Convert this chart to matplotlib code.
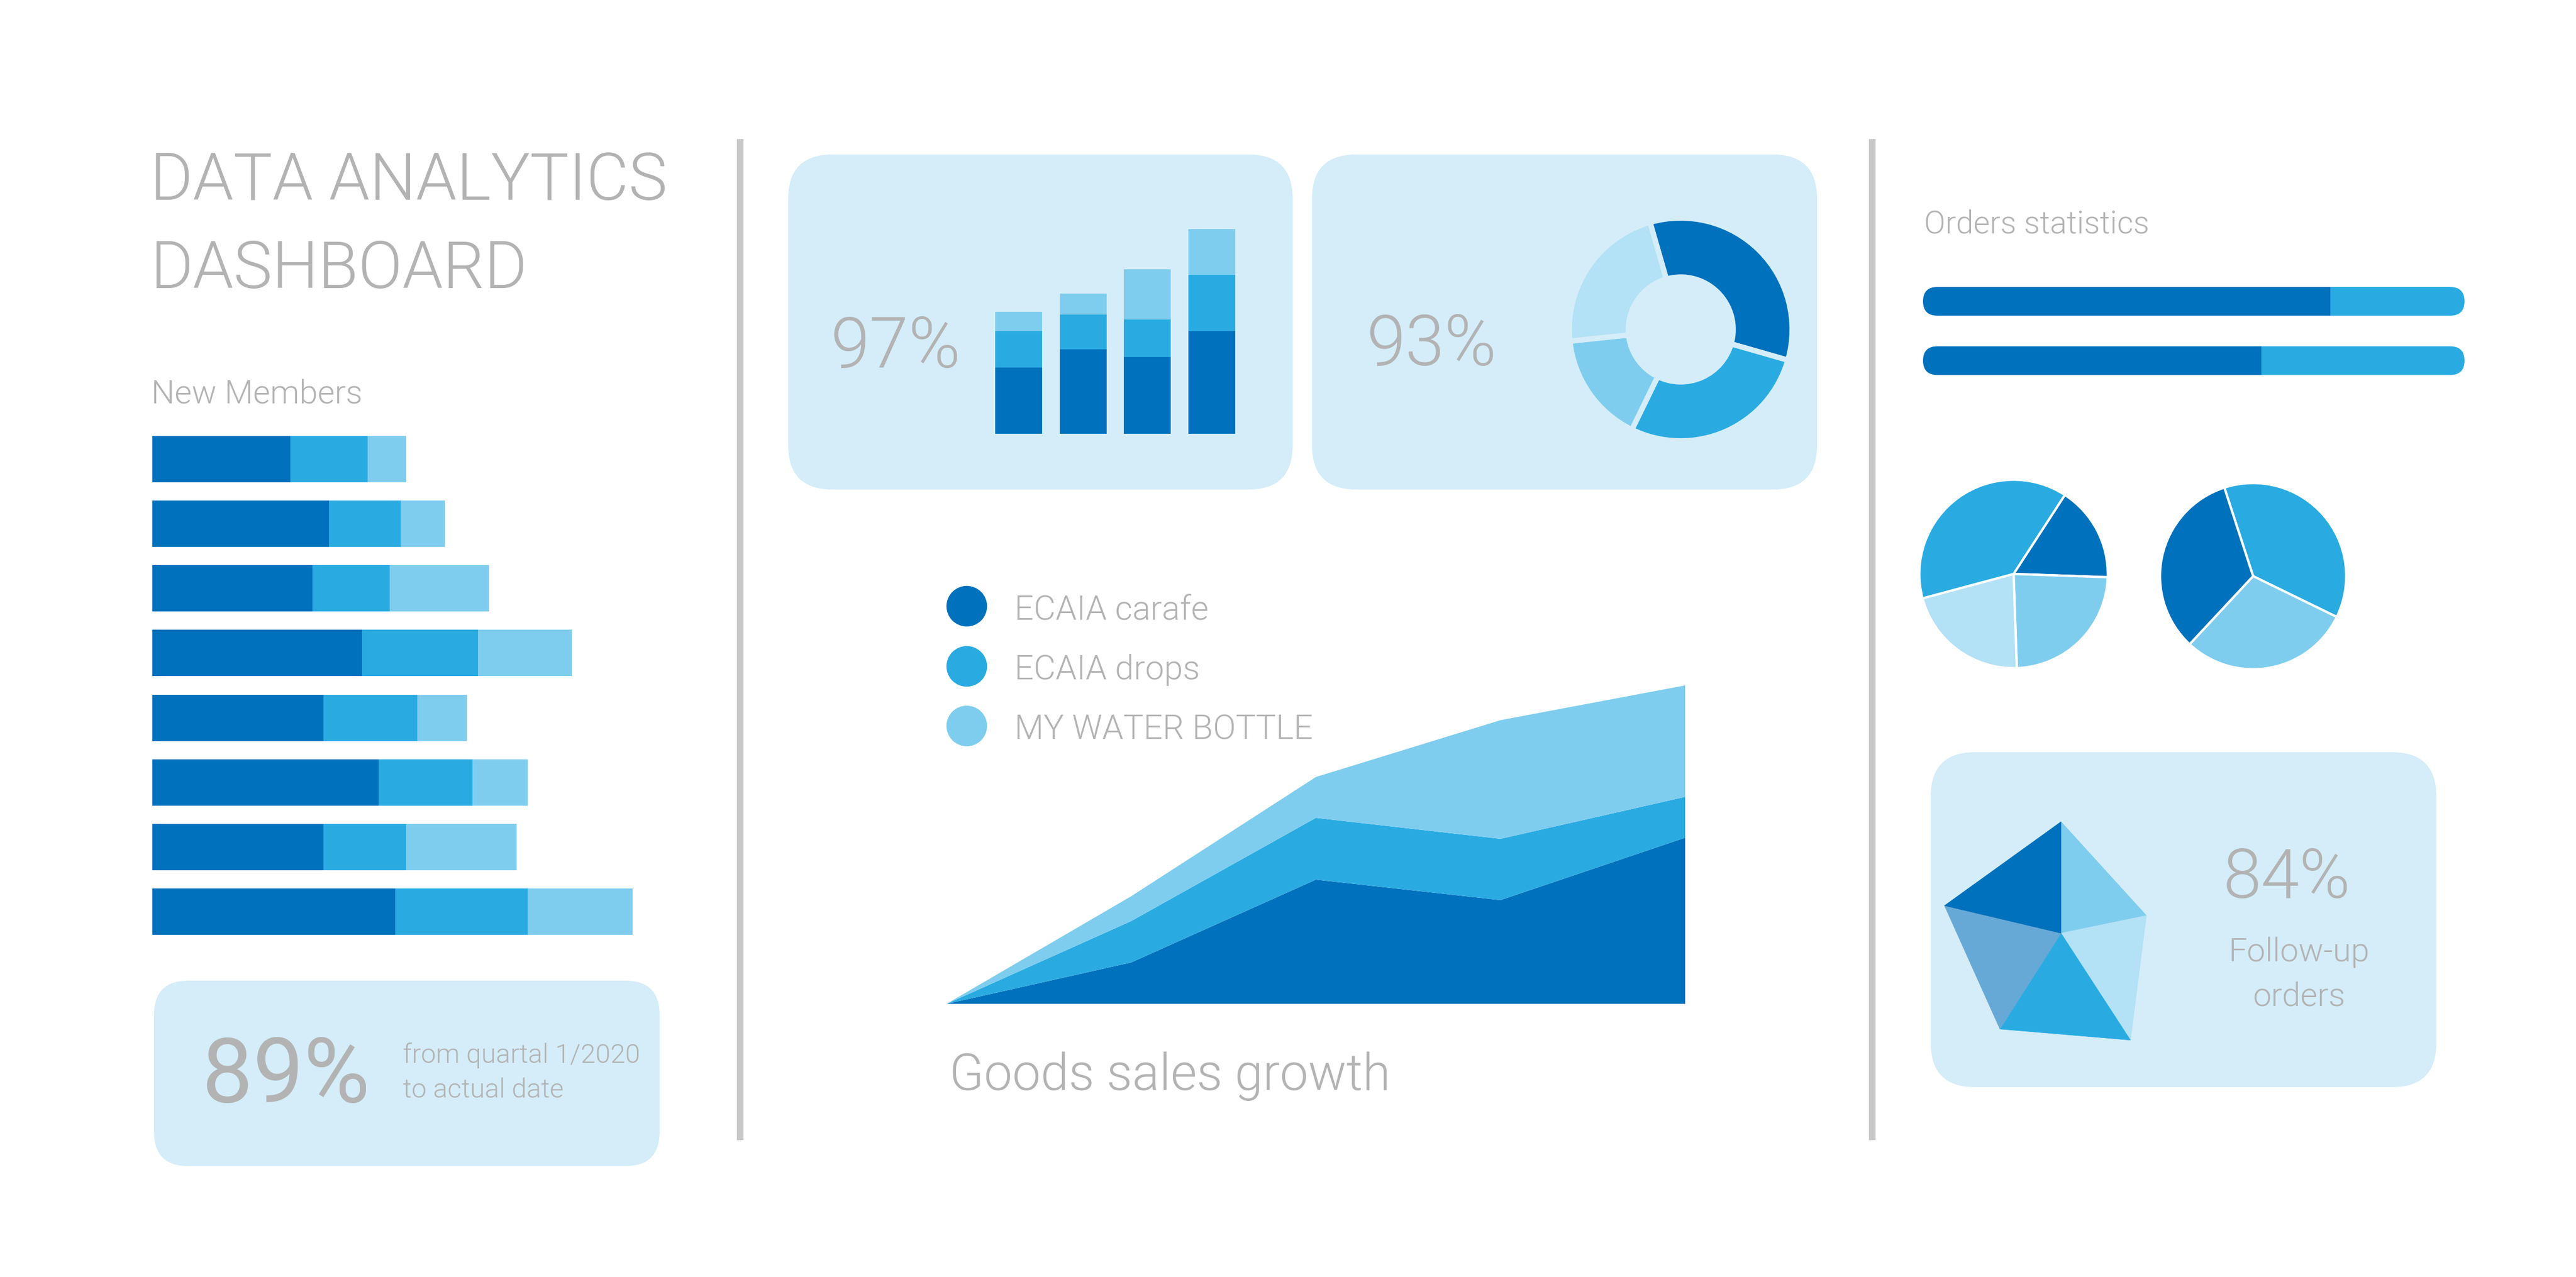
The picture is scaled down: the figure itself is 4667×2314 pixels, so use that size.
import numpy as np
import matplotlib
matplotlib.use("Agg")
import matplotlib.pyplot as plt
from matplotlib.patches import FancyBboxPatch
from matplotlib.lines import Line2D

plt.rcParams["font.family"] = ["Roboto", "DejaVu Sans"]

W, H = 4667, 2314

DARK = "#0071BC"
MID = "#29ABE2"
LIGHT = "#7FCDEE"
PALE = "#B3E1F5"
STEEL = "#66A9D7"
BOX = "#D4EDF8"
GREY = "#B3B3B3"

# New Members (three stacked segments per row)
members_dark = [25, 32, 29, 38, 31, 41, 31, 44]
members_mid = [14, 13, 14, 21, 17, 17, 15, 24]
members_light = [7, 8, 18, 17, 9, 10, 20, 19]

# small column chart in the 97% card
cols_dark = [12.0, 15.3, 13.9, 18.6]
cols_mid = [6.6, 6.3, 6.8, 10.2]
cols_light = [3.5, 3.8, 9.1, 8.3]

# donut in the 93% card
donut_values = [122, 100, 58, 80]

# goods sales growth
sales_x = [0, 1, 2, 3, 4]
sales_carafe = [0, 7.5, 22.5, 18.8, 30.1]
sales_drops = [0, 7.5, 11.2, 11.1, 7.4]
sales_bottle = [0, 4.5, 7.4, 21.5, 20.2]
sales_labels = ["ECAIA carafe", "ECAIA drops", "MY WATER BOTTLE"]

# orders statistics
orders_share = [75.2, 62.5]

pie1_values = [59, 86, 77, 138]
pie2_values = [134, 107, 119]

# follow-up orders "pentagon"
penta_angles = [90, 11.7, -57, -122.5, 166.7]
penta_radii = [202, 158, 231, 206, 217]

fig = plt.figure(figsize=(W / 100, H / 100), dpi=100)
bg = fig.add_axes([0, 0, 1, 1])
bg.set_xlim(0, W)
bg.set_ylim(H, 0)
bg.axis("off")


def px_axes(x0, y0, x1, y1):
    ax = fig.add_axes([x0 / W, 1 - y1 / H, (x1 - x0) / W, (y1 - y0) / H])
    ax.axis("off")
    return ax


def card(x0, y0, x1, y1, r):
    bg.add_patch(FancyBboxPatch((x0, y0), x1 - x0, y1 - y0,
                                boxstyle=f"round,pad=0,rounding_size={r}",
                                fc=BOX, ec="none"))


def label(x, y, s, size, ha="left", weight=300):
    bg.text(x, y, s, fontsize=size, color=GREY, ha=ha, va="baseline",
            fontweight=weight)


# separators and cards
for sx in [1341, 3392]:
    bg.plot([sx, sx], [252, 2066], color="#C8C8C8", lw=8.6, solid_capstyle="butt")
card(279, 1777, 1195, 2113, 62)
card(1428, 280, 2342, 887, 80)
card(2377, 280, 3292, 887, 80)
card(3498, 1363, 4414, 1970, 80)

# titles and labels
label(272, 362, "DATA ANALYTICS", 85)
label(272, 522, "DASHBOARD", 85)
label(274, 731, "New Members", 43)
label(366, 1997, "89%", 118, weight="normal")
label(730, 1926, "from quartal 1/2020", 35)
label(730, 1989, "to actual date", 35)
label(1505, 666, "97%", 92)
label(2476, 662, "93%", 92)
label(1720, 1975, "Goods sales growth", 66)
label(3486, 423, "Orders statistics", 41)
label(4143, 1627, "84%", 90, ha="center")
label(4165, 1742, "Follow-up", 43, ha="center")
label(4165, 1823, "orders", 43, ha="center")

# New Members stacked bars
ax = px_axes(276, 773, 1276, 1711)
rows = np.arange(len(members_dark))
left2 = np.array(members_dark)
left3 = left2 + np.array(members_mid)
ax.barh(rows, members_dark, height=0.716, color=DARK, lw=0)
ax.barh(rows, members_mid, left=left2, height=0.716, color=MID, lw=0)
ax.barh(rows, members_light, left=left3, height=0.716, color=LIGHT, lw=0)
ax.set_xlim(0, 100)
ax.set_ylim(len(rows) - 0.5, -0.5)

# columns in the 97% card
ax = px_axes(1787, 386, 2254, 786)
cx = np.arange(len(cols_dark))
b2 = np.array(cols_dark)
b3 = b2 + np.array(cols_mid)
ax.bar(cx, cols_dark, width=0.73, color=DARK, lw=0)
ax.bar(cx, cols_mid, bottom=b2, width=0.73, color=MID, lw=0)
ax.bar(cx, cols_light, bottom=b3, width=0.73, color=LIGHT, lw=0)
ax.set_xlim(-0.5, len(cx) - 0.5)
ax.set_ylim(0, 40)

# donut in the 93% card
R = 197
ax = px_axes(3045 - 220, 597 - 220, 3045 + 220, 597 + 220)
ax.pie(donut_values, colors=[DARK, MID, LIGHT, PALE], startangle=106,
       counterclock=False, radius=1.025,
       wedgeprops=dict(width=0.543, edgecolor=BOX, linewidth=7))
ax.set_xlim(-220 / R, 220 / R)
ax.set_ylim(-220 / R, 220 / R)

# goods sales growth area chart
ax = px_axes(1715, 1219, 3053, 1819)
ax.stackplot(sales_x, sales_carafe, sales_drops, sales_bottle,
             colors=[DARK, MID, LIGHT], lw=0)
ax.set_xlim(0, 4)
ax.set_ylim(0, 60)
handles = [Line2D([], [], marker="o", ls="none", ms=53, mfc=c, mec="none")
           for c in [DARK, MID, LIGHT]]
bg.legend(handles, sales_labels, loc="upper left", bbox_to_anchor=(1714, 1074),
          bbox_transform=bg.transData, frameon=False,
          labelcolor=GREY, handlelength=1.21, handleheight=1.0,
          handletextpad=0.82, labelspacing=0.79, borderpad=0, borderaxespad=0,
          prop=dict(weight=300, size=44))

# orders statistics capsules
ax = px_axes(3484, 492.25, 4465, 707.25)
orows = np.arange(len(orders_share))
rest = 100 - np.array(orders_share)
d = ax.barh(orows, orders_share, height=0.484, color=DARK, lw=0)
m = ax.barh(orows, rest, left=orders_share, height=0.484, color=MID, lw=0)
ax.set_xlim(0, 100)
ax.set_ylim(1.5, -0.5)
for i in orows:
    cap = FancyBboxPatch((0, i - 0.242), 100, 0.484,
                         boxstyle="round,pad=0,rounding_size=2.65",
                         mutation_aspect=0.0913, transform=ax.transData,
                         fc="none", ec="none")
    ax.add_patch(cap)
    d[i].set_clip_path(cap)
    m[i].set_clip_path(cap)

# two pies
for (px, py, r), vals, cols, start in [
        ((3648, 1040, 169), pie1_values, [DARK, LIGHT, PALE, MID], 57),
        ((4082, 1044, 167), pie2_values, [MID, LIGHT, DARK], 108)]:
    ax = px_axes(px - 185, py - 185, px + 185, py + 185)
    ax.pie(vals, colors=cols, startangle=start, counterclock=False, radius=1.01,
           wedgeprops=dict(edgecolor="white", linewidth=3))
    ax.set_xlim(-185 / r, 185 / r)
    ax.set_ylim(-185 / r, 185 / r)

# follow-up pentagon
ax = px_axes(3734 - 260, 1691 - 260, 3734 + 260, 1691 + 260)
ang = np.radians(penta_angles)
vx = np.array(penta_radii) * np.cos(ang)
vy = np.array(penta_radii) * np.sin(ang)
pcols = [LIGHT, PALE, MID, STEEL, DARK]
for i in range(5):
    j = (i + 1) % 5
    ax.fill([0, vx[i], vx[j]], [0, vy[i], vy[j]], fc=pcols[i], ec=pcols[i], lw=0.5)
ax.set_xlim(-260, 260)
ax.set_ylim(-260, 260)

fig.savefig("out.png", dpi=100, facecolor="white")
